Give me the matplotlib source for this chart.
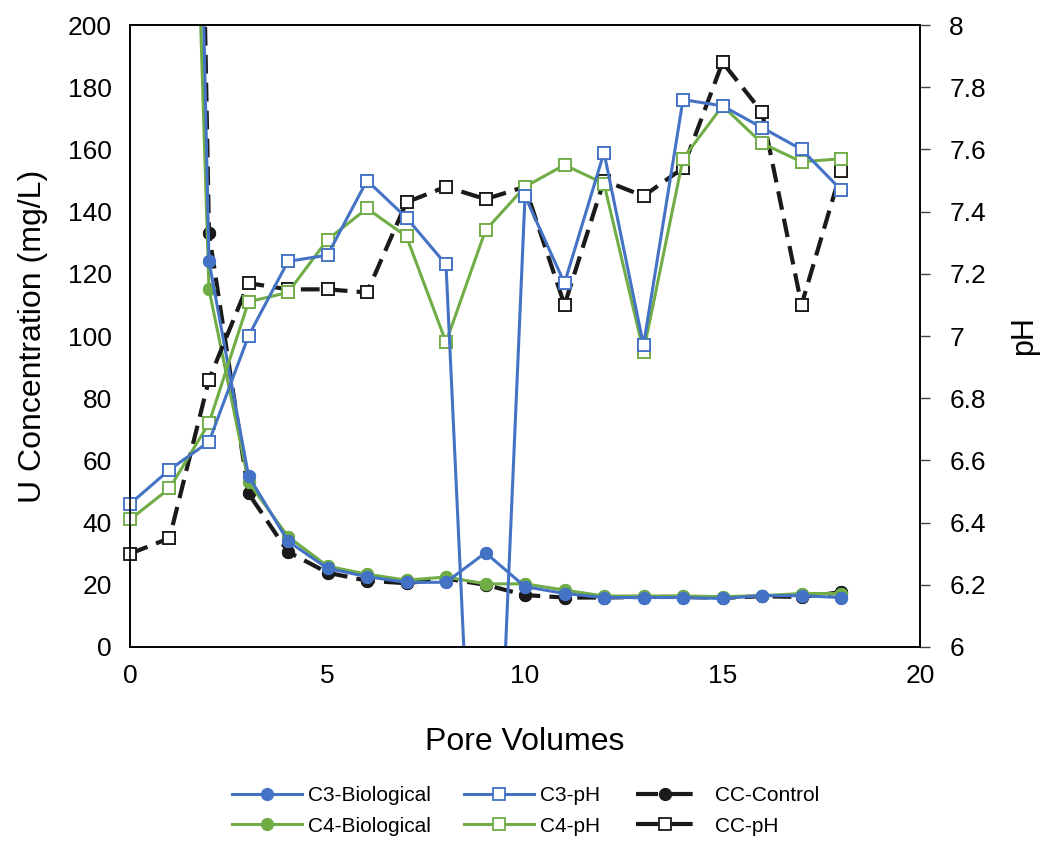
import matplotlib.pyplot as plt
from matplotlib.lines import Line2D
import numpy as np

# =========================================================
# DATA
# =========================================================

pore_volumes = np.arange(0, 19)

# U concentration (mg/L), first points are off the top of the axis
c3_bio = [np.nan, 700, 124, 55, 34, 25.3, 22.6, 20.8, 20.8, 30.3,
          19.4, 17.2, 15.9, 15.9, 15.9, 15.6, 16.5, 16.5, 15.9]
c4_bio = [np.nan, 520, 115, 53, 35.5, 26, 23.4, 21.5, 22.5, 20.3,
          20.3, 18.3, 16.4, 16.4, 16.4, 16.2, 16.5, 17.2, 17.2]
cc_control = [np.nan, 800, 133, 49.4, 30.6, 23.9, 21.3, 20.5, 22, 20,
              16.7, 15.9, 15.9, 16.1, 16.1, 15.8, 16.3, 16.1, 17.6]

# pH
c3_ph = [6.46, 6.57, 6.66, 7.00, 7.24, 7.26, 7.50, 7.38, 7.23, 4.5,
         7.45, 7.17, 7.59, 6.97, 7.76, 7.74, 7.67, 7.60, 7.47]
c4_ph = [6.41, 6.51, 6.72, 7.11, 7.14, 7.31, 7.41, 7.32, 6.98, 7.34,
         7.48, 7.55, 7.49, 6.95, 7.57, 7.74, 7.62, 7.56, 7.57]
cc_ph = [6.30, 6.35, 6.86, 7.17, 7.15, 7.15, 7.14, 7.43, 7.48, 7.44,
         7.48, 7.10, 7.50, 7.45, 7.54, 7.88, 7.72, 7.10, 7.53]

BLUE = "#4472C4"
GREEN = "#70AD47"
BLACK = "#1a1a1a"
DASH = (0, (4.5, 2.2))

plt.rcParams["font.family"] = ["Liberation Sans", "DejaVu Sans"]


def plot_series(axis, x, y, ylim, **kw):
    """
    Line clipped to the axes, markers at the edge left unclipped
    (like Excel does for points sitting on the border).
    """
    line, = axis.plot(x, y, **kw)
    y = np.asarray(y, dtype=float)
    inside = (y >= ylim[0]) & (y <= ylim[1])
    mk = dict(kw)
    mk.pop("label", None)
    mk["linestyle"] = "none"
    axis.plot(np.asarray(x)[inside], y[inside], clip_on=False, **mk)
    return line


# =========================================================
# FIGURE
# =========================================================

fig = plt.figure(figsize=(10.45, 8.42), dpi=100)
ax = fig.add_axes([0.1244, 0.2316, 0.7560, 0.7387])
ax2 = ax.twinx()

U_LIM = (0, 200)
PH_LIM = (6, 8)

lw = 2.2
bio_kw = dict(marker="o", markersize=8.5)
ph_kw = dict(marker="s", markersize=8, markerfacecolor="white",
             markeredgewidth=1.3)

plot_series(ax, pore_volumes, cc_control, U_LIM, color=BLACK,
            linestyle=DASH, linewidth=3, **bio_kw)
h_c4b = plot_series(ax, pore_volumes, c4_bio, U_LIM, color=GREEN,
                    linewidth=lw, label="C4-Biological", **bio_kw)
h_c3b = plot_series(ax, pore_volumes, c3_bio, U_LIM, color=BLUE,
                    linewidth=lw, label="C3-Biological", **bio_kw)

plot_series(ax2, pore_volumes, cc_ph, PH_LIM, color=BLACK,
            linestyle=DASH, linewidth=3, markeredgecolor=BLACK, **ph_kw)
h_c4p = plot_series(ax2, pore_volumes, c4_ph, PH_LIM, color=GREEN,
                    linewidth=lw, markeredgecolor=GREEN, label="C4-pH", **ph_kw)
h_c3p = plot_series(ax2, pore_volumes, c3_ph, PH_LIM, color=BLUE,
                    linewidth=lw, markeredgecolor=BLUE, label="C3-pH", **ph_kw)

# legend proxies for the dashed series: dash - marker - dash
h_cc = Line2D([], [], color=BLACK, linestyle=(0, (5.3, 3)), linewidth=3,
              label="CC-Control", **bio_kw)
h_ccp = Line2D([], [], color=BLACK, linestyle=(0, (5.3, 3)), linewidth=3,
               markeredgecolor=BLACK, label="CC-pH", **ph_kw)

# axes limits and ticks
ax.set_xlim(0, 20)
ax.set_ylim(*U_LIM)
ax.set_xticks(np.arange(0, 21, 5))
ax.set_yticks(np.arange(0, 201, 20))
ax2.set_ylim(*PH_LIM)
ax2.set_yticks(np.arange(6, 8.01, 0.2))
ax2.set_yticklabels(["6", "6.2", "6.4", "6.6", "6.8", "7",
                     "7.2", "7.4", "7.6", "7.8", "8"])

ax.tick_params(length=0, labelsize=19, pad=13)
ax.tick_params(axis="x", pad=12)
ax2.tick_params(length=7, width=1, color="#444444", direction="out",
                labelsize=19, pad=14)

ax.set_xlabel("Pore Volumes", fontsize=23, labelpad=28)
ax.set_ylabel("U Concentration (mg/L)", fontsize=23, labelpad=14)
ax2.set_ylabel("pH", fontsize=22, labelpad=17)

for sp in list(ax.spines.values()) + list(ax2.spines.values()):
    sp.set_linewidth(1.2)

# legend below the plot: three columns, two rows each
legend_cols = [([h_c3b, h_c4b], 0.222, 3.35, 0.3),
               ([h_c3p, h_c4p], 0.444, 3.35, 0.3),
               ([h_cc, h_ccp], 0.609, 2.75, 1.0)]
for handles, x0, hlen, pad in legend_cols:
    fig.legend(handles, [h.get_label() for h in handles],
               loc="center left", bbox_to_anchor=(x0, 0.037), frameon=False,
               fontsize=15, handlelength=hlen, handletextpad=pad,
               labelspacing=0.55, borderpad=0, borderaxespad=0)

fig.savefig("out.png", dpi=100)
